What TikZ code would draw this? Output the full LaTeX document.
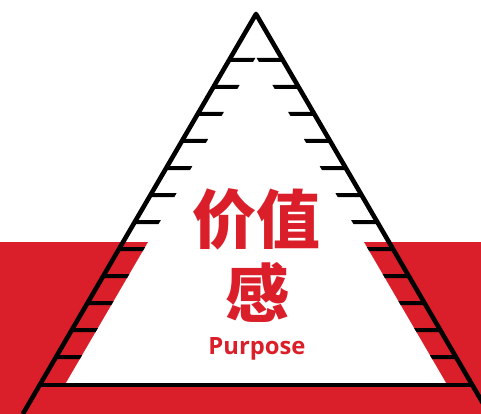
\documentclass[tikz,border=0pt]{standalone}
\usepackage{fontspec}
\newfontfamily\cjk{Noto Sans CJK SC}
\newfontfamily\latinsans{Open Sans}
\definecolor{brandred}{HTML}{DA1F2A}
\begin{document}
\begin{tikzpicture}[x=1pt,y=-1pt,
  outerline/.style={draw=black,line width=4.6pt,line join=round},
  rung/.style={fill=black},
  baseline/.style={draw=black,line width=4.6pt},
  bigtext/.style={text=brandred,inner sep=0pt,font=\cjk\bfseries\fontsize{64}{64}\selectfont},
  subtext/.style={text=brandred,inner sep=0pt,font=\latinsans\bfseries\fontsize{23.8}{23.8}\selectfont}]
\useasboundingbox (0,0) rectangle (481,414);
\clip (0,0) rectangle (481,414);
\fill[white] (0,0) rectangle (481,414);
% red band
\fill[brandred] (0,242) rectangle (481,414);
% inner white triangle
\coordinate (iapex) at (256,57);
\coordinate (ibl) at (64.8,385);
\coordinate (ibr) at (447.2,385);
\fill[white] (ibl) -- (iapex) -- (ibr) -- cycle;
% rungs
\foreach \k in {0,...,11}{
  \pgfmathsetmacro{\ya}{60+27*\k-2}
  \pgfmathsetmacro{\yb}{60+27*\k+2}
  \pgfmathsetmacro{\xoa}{256-0.583*(\ya-14)}
  \pgfmathsetmacro{\xob}{256-0.583*(\yb-14)}
  \fill[rung] (\xoa,\ya) -- (\xoa+25,\ya) -- (\xob+25,\yb) -- (\xob,\yb) -- cycle;
  \fill[rung] (512-\xoa,\ya) -- (512-\xoa-25,\ya) -- (512-\xob-25,\yb) -- (512-\xob,\yb) -- cycle;
}
% base line
\coordinate (basel) at (38,385);
\coordinate (baser) at (474,385);
\draw[baseline] (basel) -- (baser);
% outer triangle sides
\coordinate (apex) at (256,14);
\coordinate (bl) at (22.8,414);
\coordinate (br) at (489.2,414);
\draw[outerline] (bl) -- (apex) -- (br);
% texts
\node[bigtext,anchor=base] (t1) at (256.5,243.5) {价值};
\node[bigtext,anchor=base] (t2) at (257,317.5) {感};
\node[subtext,anchor=base] (t3) at (257,354.3) {Purpose};
\end{tikzpicture}
\end{document}
